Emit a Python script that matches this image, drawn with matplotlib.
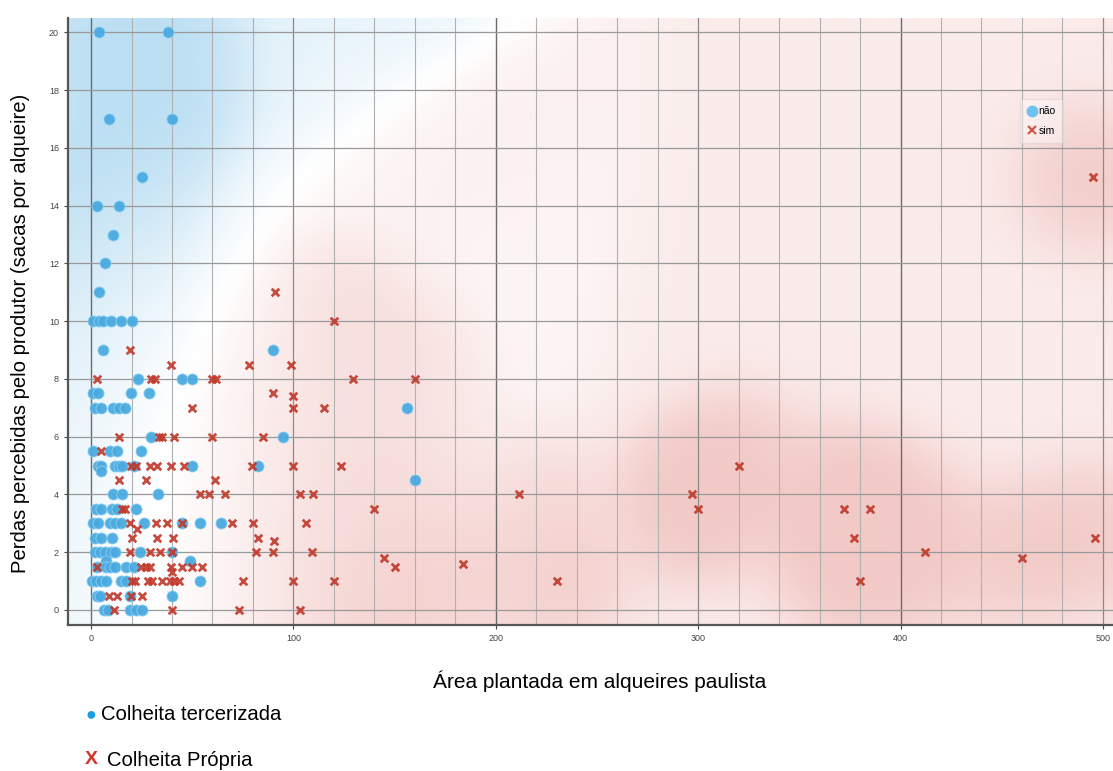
import numpy as np
import matplotlib
matplotlib.use("Agg")
import matplotlib.pyplot as plt
from matplotlib.lines import Line2D

# Colheita tercerizada ("não") -- area (alqueires), perdas (sacas/alqueire)
nao_area = [4, 38, 9, 40, 25, 3, 14, 11, 7, 4,
            1, 4, 6, 10, 15, 20, 6, 90, 23, 45, 50,
            1, 3.6, 19.5, 28.5, 2, 5, 11, 14, 16.8, 156,
            29.5, 95, 1, 9.4, 12.7, 24.7,
            3.5, 5, 12, 14, 15.5, 21, 50, 82.6, 4.7, 160,
            11, 15.5, 33, 2.3, 5, 10.5, 13, 22,
            1, 3.3, 9.5, 12, 15, 26, 45, 54, 64,
            2, 5, 10.5, 2, 4.5, 7, 10, 12, 24, 40,
            7.5, 49, 3, 7.3, 9.5, 12, 17.5, 21,
            0.3, 2.3, 5, 7.3, 15, 17.5, 54,
            2.8, 4.5, 19, 40, 6.5, 8.3, 19, 22, 25]
nao_perda = [20, 20, 17, 17, 15, 14, 14, 13, 12, 11,
             10, 10, 10, 10, 10, 10, 9, 9, 8, 8, 8,
             7.5, 7.5, 7.5, 7.5, 7, 7, 7, 7, 7, 7,
             6, 6, 5.5, 5.5, 5.5, 5.5,
             5, 5, 5, 5, 5, 5, 5, 5, 4.8, 4.5,
             4, 4, 4, 3.5, 3.5, 3.5, 3.5, 3.5,
             3, 3, 3, 3, 3, 3, 3, 3, 3,
             2.5, 2.5, 2.5, 2, 2, 2, 2, 2, 2, 2,
             1.7, 1.7, 1.5, 1.5, 1.5, 1.5, 1.5, 1.5,
             1, 1, 1, 1, 1, 1, 1,
             0.5, 0.5, 0.5, 0.5, 0, 0, 0, 0, 0]

# Colheita Propria ("sim")
sim_area = [495, 91, 120, 19, 39.5, 78, 99,
            3, 29.5, 31.6, 60, 61.5, 129.5, 160, 90, 100,
            50, 100, 115, 14, 33.5, 35, 41, 60, 85, 5,
            19.5, 22, 29, 32.5, 39.5, 46, 79.5, 100, 123.5, 320,
            14, 27, 61, 54, 58.5, 66, 103, 109.5, 211.5, 297,
            15.5, 17, 140, 300, 372, 385,
            19, 32, 37.5, 45, 69.5, 80, 106, 22.5,
            20, 32.5, 40.5, 82.5, 377, 496, 90.5,
            19, 29, 34, 40, 81.5, 90, 109, 412,
            145, 460, 184,
            3, 24.5, 27, 29, 39.5, 45, 50, 55, 150, 40,
            20, 21.5, 28, 30, 35, 39, 41, 43.5, 75, 100, 120, 230, 380,
            9, 13, 19.5, 25, 11.5, 40, 73, 103]
sim_perda = [15, 11, 10, 9, 8.5, 8.5, 8.5,
             8, 8, 8, 8, 8, 8, 8, 7.5, 7.4,
             7, 7, 7, 6, 6, 6, 6, 6, 6, 5.5,
             5, 5, 5, 5, 5, 5, 5, 5, 5, 5,
             4.5, 4.5, 4.5, 4, 4, 4, 4, 4, 4, 4,
             3.5, 3.5, 3.5, 3.5, 3.5, 3.5,
             3, 3, 3, 3, 3, 3, 3, 2.8,
             2.5, 2.5, 2.5, 2.5, 2.5, 2.5, 2.4,
             2, 2, 2, 2, 2, 2, 2, 2,
             1.8, 1.8, 1.6,
             1.5, 1.5, 1.5, 1.5, 1.5, 1.5, 1.5, 1.5, 1.5, 1.3,
             1, 1, 1, 1, 1, 1, 1, 1, 1, 1, 1, 1, 1,
             0.5, 0.5, 0.5, 0.5, 0, 0, 0, 0]

XLIM = (-11.4, 505)
YLIM = (-0.52, 20.5)
BLUE = "#4aaae0"
RED = "#c0392b"

plt.rcParams["font.family"] = ["Liberation Sans", "DejaVu Sans"]


def class_density(xlim, ylim, nx=220, ny=140):
    # gaussian-kernel class mix, computed in (roughly) screen units
    sx, sy = 2.025, 28.85
    xs = np.concatenate([nao_area, sim_area]) * sx
    ys = np.concatenate([nao_perda, sim_perda]) * sy
    is_red = np.r_[np.zeros(len(nao_area)), np.ones(len(sim_area))]
    gx = np.linspace(xlim[0], xlim[1], nx) * sx
    gy = np.linspace(ylim[0], ylim[1], ny) * sy
    GX, GY = np.meshgrid(gx, gy)
    d2 = (GX[..., None] - xs) ** 2 + (GY[..., None] - ys) ** 2
    w = np.exp(-d2 / (2 * 85.0 ** 2))
    tot = w.sum(-1) + 1e-300
    p_red = (w * is_red).sum(-1) / tot
    conf = np.abs(2 * p_red - 1)
    near = 1 - np.exp(-np.exp(-d2 / (2 * 45.0 ** 2)).sum(-1) / 0.6)
    alpha = conf * (0.35 + 0.65 * near)
    col_b = np.array([140, 200, 235]) / 255
    col_r = np.array([226, 135, 128]) / 255
    col = np.where((p_red > 0.5)[..., None], col_r, col_b)
    amax = np.where(p_red > 0.5, 0.45, 0.6)[..., None]
    a = alpha[..., None] * amax
    return 1 * (1 - a) + col * a


fig = plt.figure(figsize=(11.13, 7.71), dpi=100)
ax = fig.add_axes([68 / 1113, 146 / 771, 1045 / 1113, 607 / 771])

img = class_density(XLIM, YLIM)
ax.imshow(img, extent=(XLIM[0], XLIM[1], YLIM[0], YLIM[1]), origin="lower",
          aspect="auto", interpolation="bicubic", zorder=0)

# grid
for gx in np.arange(0, 501, 20):
    if gx % 200 == 0:
        c, lw = "#6b6b6b", 1.0
    elif gx % 100 == 0:
        c, lw = "#8a8a8a", 0.9
    else:
        c, lw = "#b0b0b0", 0.8
    ax.axvline(gx, color=c, lw=lw, zorder=1)
for gy in np.arange(0, 21, 2):
    ax.axhline(gy, color="#999999", lw=0.9, zorder=1)

ax.scatter(nao_area, nao_perda, s=64, c=BLUE, edgecolors="#8fd0f2",
           linewidths=0.6, alpha=0.95, zorder=3)
ax.scatter(sim_area, sim_perda, s=30, marker="x", c=RED, linewidths=2.0,
           alpha=0.9, zorder=4)

ax.set_xlim(XLIM)
ax.set_ylim(YLIM)
ax.set_xticks([0, 100, 200, 300, 400, 500])
ax.set_yticks(np.arange(0, 21, 2))
ax.tick_params(labelsize=6.5, colors="#444444", length=3, width=0.8)
for s in ["top", "right"]:
    ax.spines[s].set_visible(False)
for s in ["left", "bottom"]:
    ax.spines[s].set_color("#555555")
    ax.spines[s].set_linewidth(1.6)

handles = [Line2D([], [], marker="o", ls="", color="#6cc3f0", markersize=7.5),
           Line2D([], [], marker="x", ls="", color="#d0584c", markersize=6,
                  markeredgewidth=1.6)]
ax.legend(handles, ["não", "sim"], loc="upper left",
          bbox_to_anchor=(0.906, 0.875), fontsize=7.5, frameon=True,
          handletextpad=0.1, borderpad=0.7, labelspacing=0.9,
          handlelength=1.0, edgecolor="#cccccc", framealpha=0.4,
          fancybox=False)

fig.text(21 / 1113, 1 - 333 / 771,
         "Perdas percebidas pelo produtor (sacas por alqueire)",
         fontsize=14.6, rotation=90, ha="center", va="center")
fig.text(600 / 1113, 1 - 681 / 771, "Área plantada em alqueires paulista",
         fontsize=15, ha="center", va="center")
fig.text(91 / 1113, 1 - 715 / 771, "●", color="#1a9be0", fontsize=13,
         ha="center", va="center")
fig.text(101 / 1113, 1 - 715 / 771, "Colheita tercerizada", fontsize=14.6,
         ha="left", va="center")
fig.text(91 / 1113, 1 - 760 / 771, "X", color="#d8322a", fontsize=14,
         fontweight="bold", ha="center", va="center")
fig.text(107 / 1113, 1 - 760 / 771, "Colheita Própria", fontsize=14.6,
         ha="left", va="center")

fig.savefig("out.png", dpi=100)
